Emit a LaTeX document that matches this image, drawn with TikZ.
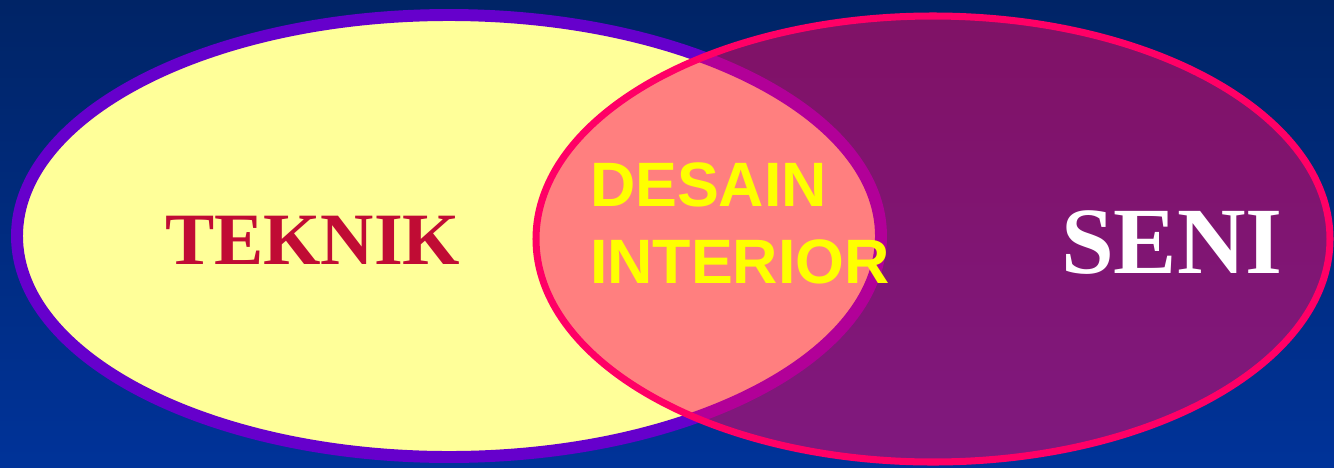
\documentclass[tikz,border=0pt]{standalone}
\usepackage{fontspec}
\setmainfont{Liberation Serif}
\newfontfamily\arialfont{Liberation Sans}
\definecolor{bgtop}{RGB}{0,36,102}
\definecolor{bgbot}{RGB}{0,51,153}
\definecolor{tekfill}{RGB}{255,255,153}
\definecolor{tekrim}{RGB}{102,0,204}
\definecolor{senirim}{RGB}{255,0,102}
\definecolor{tekred}{RGB}{192,12,52}
\definecolor{desyellow}{RGB}{255,255,0}
\tikzset{
  label/.style={inner sep=0pt, outer sep=0pt},
}
\begin{document}
\begin{tikzpicture}
    % Background
    \useasboundingbox (0,0) rectangle (26.68,9.34);
    \shade[top color=bgtop, bottom color=bgbot] (0,0) rectangle (26.68,9.34);

    % Teknik set
    \draw[tekrim, fill=tekfill, line width=6.8pt] (8.98,4.62) ellipse [x radius=8.64cm, y radius=4.42cm];

    % Seni set (see-through fill)
    \draw[senirim, fill=senirim, fill opacity=0.5, line width=4pt] (18.66,4.56) ellipse [x radius=7.94cm, y radius=4.46cm];

    % Labels
    \node[label, anchor=base west, tekred, font=\fontsize{42}{50}\selectfont\bfseries] (teknik) at (3.3,4.06) {TEKNIK};
    \node[label, anchor=base west, white, font=\fontsize{54}{64}\selectfont\bfseries] (seni) at (21.22,3.88) {SENI};
    \node[label, anchor=north west, desyellow, align=left, font=\arialfont\fontsize{35.7}{43.7}\selectfont\bfseries] (desain) at (11.8,6.08) {DESAIN\\INTERIOR};
\end{tikzpicture}
\end{document}
